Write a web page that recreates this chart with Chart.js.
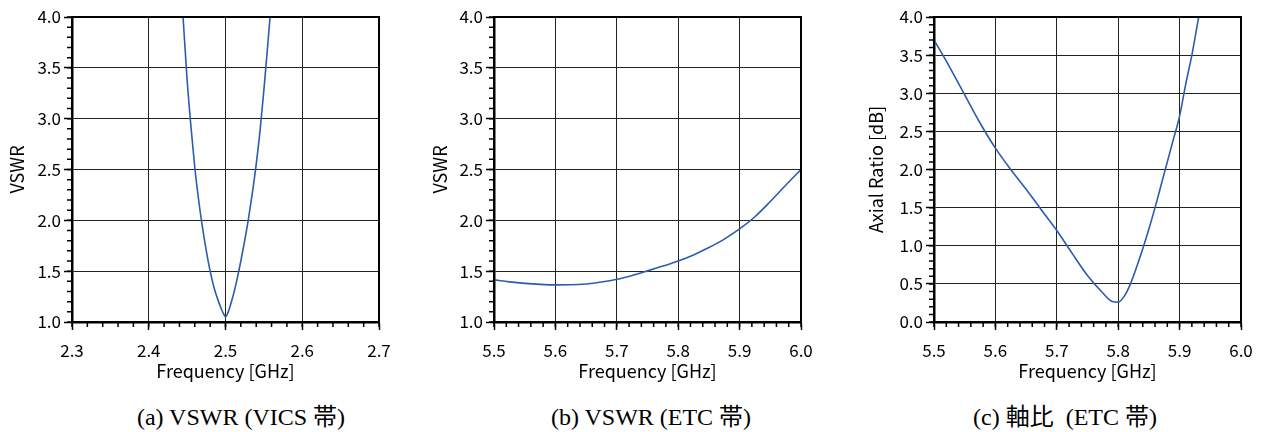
<!DOCTYPE html>
<html>
<head>
<meta charset="utf-8">
<script src="https://cdn.jsdelivr.net/npm/chart.js@4.4.0/dist/chart.umd.min.js"></script>
<style>
  body { margin: 0; background: #fff; width: 1263px; height: 432px; position: relative; overflow: hidden; }
  .box { position: absolute; top: 0; width: 421px; height: 390px; }
  .cap { position: absolute; top: 397px; font-family: 'Liberation Serif', 'Noto Sans CJK JP', serif; font-size: 24px; white-space: pre; transform: translateX(-50%); color: #000; }
</style>
</head>
<body>
<div class="box" style="left:0px"><canvas id="vicsChart"></canvas></div>
<div class="box" style="left:421px"><canvas id="etcChart"></canvas></div>
<div class="box" style="left:842px"><canvas id="arChart"></canvas></div>
<div class="cap" style="left:241px">(a) VSWR (VICS 帯)</div>
<div class="cap" style="left:651px">(b) VSWR (ETC 帯)</div>
<div class="cap" style="left:1065px">(c) 軸比  (ETC 帯)</div>
<script>
// (a) VSWR, VICS band
const vicsFreq = [2.440, 2.445, 2.450, 2.455, 2.460, 2.465, 2.470, 2.475, 2.480, 2.485, 2.490, 2.495, 2.4975,
                  2.500, 2.5025, 2.505, 2.510, 2.515, 2.520, 2.525, 2.530, 2.535, 2.540, 2.545, 2.550, 2.555, 2.560];
const vicsVswr = [4.60, 3.96, 3.38, 2.92, 2.52, 2.20, 1.93, 1.70, 1.50, 1.34, 1.22, 1.12, 1.08,
                  1.05, 1.08, 1.13, 1.26, 1.42, 1.60, 1.80, 2.02, 2.27, 2.55, 2.88, 3.28, 3.72, 4.18];

// (b) VSWR, ETC band
const etcFreq = [5.500, 5.525, 5.550, 5.575, 5.600, 5.625, 5.650, 5.675, 5.700, 5.725, 5.750,
                 5.775, 5.800, 5.825, 5.850, 5.875, 5.900, 5.925, 5.950, 5.975, 6.000];
const etcVswr = [1.414, 1.395, 1.380, 1.370, 1.365, 1.366, 1.374, 1.393, 1.420, 1.458, 1.503,
                 1.550, 1.600, 1.660, 1.732, 1.815, 1.915, 2.035, 2.185, 2.345, 2.500];

// (c) Axial ratio, ETC band
const arFreq = [5.500, 5.525, 5.550, 5.575, 5.600, 5.625, 5.650, 5.675, 5.700, 5.725, 5.750, 5.775, 5.790,
                5.800, 5.810, 5.820, 5.830, 5.840, 5.850, 5.860, 5.870, 5.880, 5.890, 5.900, 5.910, 5.920, 5.930, 5.940];
const arValue = [3.70, 3.35, 2.98, 2.61, 2.28, 2.00, 1.74, 1.47, 1.20, 0.90, 0.61, 0.38, 0.27,
                 0.26, 0.34, 0.50, 0.72, 0.96, 1.22, 1.50, 1.80, 2.10, 2.40, 2.70, 3.12, 3.50, 3.95, 4.40];

// axis ranges [min, max, major step, minor step]
const vicsXAxis = [2.3, 2.7, 0.1, 0.02];
const etcXAxis = [5.5, 6.0, 0.1, 0.02];
const vswrYAxis = [1.0, 4.0, 0.5, 0.1];
const arYAxis = [0.0, 4.0, 0.5, 0.1];

Chart.defaults.font.family = "'Noto Sans CJK JP', 'Noto Sans', sans-serif";
Chart.defaults.font.size = 17;
Chart.defaults.color = '#000';

// short minor ticks outside the axes
const minorTicks = {
  id: 'minorTicks',
  afterDraw(chart, args, opts) {
    const ctx = chart.ctx;
    const xs = chart.scales.x, ys = chart.scales.y;
    ctx.save();
    ctx.strokeStyle = '#000';
    ctx.lineWidth = 1.5;
    ctx.beginPath();
    let n = Math.round((xs.max - xs.min) / opts.x);
    for (let i = 0; i <= n; i++) {
      const px = xs.getPixelForValue(xs.min + i * opts.x);
      ctx.moveTo(px, ys.bottom);
      ctx.lineTo(px, ys.bottom + 5);
    }
    n = Math.round((ys.max - ys.min) / opts.y);
    for (let i = 0; i <= n; i++) {
      const py = ys.getPixelForValue(ys.min + i * opts.y);
      ctx.moveTo(xs.left, py);
      ctx.lineTo(xs.left - 5, py);
    }
    ctx.stroke();
    ctx.restore();
  }
};

// closed frame round the plot area
const frame = {
  id: 'frame',
  afterDraw(chart) {
    const { left, top, right, bottom } = chart.chartArea;
    const ctx = chart.ctx;
    ctx.save();
    ctx.strokeStyle = '#000';
    ctx.lineWidth = 2;
    ctx.strokeRect(left, top, right - left, bottom - top);
    ctx.restore();
  }
};

function makeChart(id, freq, values, xAxis, yAxis, yTitle, padLeft, yWidth, padRight) {
  const ctx = document.getElementById(id);
  return new Chart(ctx, {
    type: 'line',
    data: {
      datasets: [{
        data: freq.map((f, i) => ({ x: f, y: values[i] })),
        borderColor: '#2b5cb0',
        borderWidth: 1.6,
        pointRadius: 0,
        cubicInterpolationMode: 'monotone',
        fill: false
      }]
    },
    options: {
      responsive: true,
      maintainAspectRatio: false,
      animation: false,
      layout: { padding: { left: padLeft, right: padRight, top: 17, bottom: 0 } },
      plugins: {
        legend: { display: false },
        tooltip: { enabled: false },
        minorTicks: { x: xAxis[3], y: yAxis[3] }
      },
      scales: {
        x: {
          type: 'linear',
          min: xAxis[0],
          max: xAxis[1],
          afterFit: s => { s.height = 68; },
          ticks: {
            stepSize: xAxis[2],
            autoSkip: false,
            maxRotation: 0,
            padding: 10,
            callback: v => v.toFixed(1)
          },
          grid: { color: '#222', lineWidth: 1, tickLength: 8, tickColor: '#000', tickWidth: 1.5 },
          border: { color: '#000', width: 2.5 },
          title: { display: true, text: 'Frequency [GHz]', font: { size: 18 }, padding: { top: 0, bottom: 8 } }
        },
        y: {
          min: yAxis[0],
          max: yAxis[1],
          afterFit: s => { s.width = yWidth; },
          ticks: {
            stepSize: yAxis[2],
            autoSkip: false,
            padding: 3,
            callback: v => v.toFixed(1)
          },
          grid: { color: '#222', lineWidth: 1, tickLength: 8, tickColor: '#000', tickWidth: 1.5 },
          border: { color: '#000', width: 2.5 },
          title: { display: true, text: yTitle, font: { size: 18 }, padding: { top: 6, bottom: 0 } }
        }
      }
    },
    plugins: [minorTicks, frame]
  });
}

makeChart('vicsChart', vicsFreq, vicsVswr, vicsXAxis, vswrYAxis, 'VSWR', 0, 72, 42);
makeChart('etcChart', etcFreq, etcVswr, etcXAxis, vswrYAxis, 'VSWR', 2, 71, 41);
makeChart('arChart', arFreq, arValue, etcXAxis, arYAxis, 'Axial Ratio [dB]', 17, 75, 22);
</script>
</body>
</html>
